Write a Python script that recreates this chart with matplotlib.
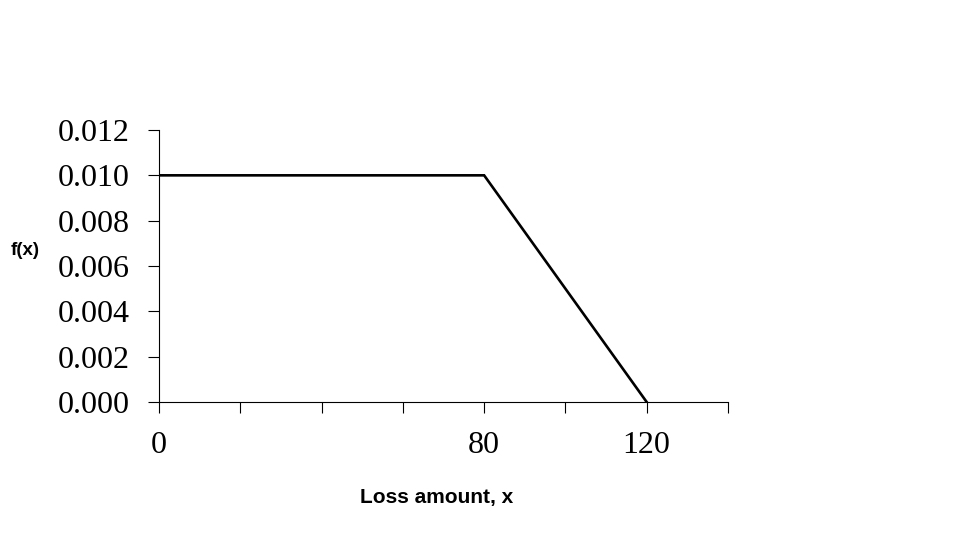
import matplotlib.pyplot as plt
from matplotlib.ticker import FixedFormatter, FixedLocator

loss = [0, 80, 120]
density = [0.010, 0.010, 0.000]
y_ticks = [0.000, 0.002, 0.004, 0.006, 0.008, 0.010, 0.012]
x_ticks = [0, 20, 40, 60, 80, 100, 120, 140]
x_tick_labels = ['0', '', '', '', '80', '', '120', '']

fig = plt.figure(figsize=(9.71, 5.46), dpi=100)
ax = fig.add_axes([0.1638, 0.2637, 0.5859, 0.4982])

ax.plot(loss, density, color='black', linewidth=1.9, solid_joinstyle='miter')

ax.set_xlim(0, 140)
ax.set_ylim(0, 0.012)
ax.xaxis.set_major_locator(FixedLocator(x_ticks))
ax.xaxis.set_major_formatter(FixedFormatter(x_tick_labels))
ax.set_yticks(y_ticks)
ax.set_yticklabels([f'{v:.3f}' for v in y_ticks])

for side in ['top', 'right']:
    ax.spines[side].set_visible(False)
for side in ['left', 'bottom']:
    ax.spines[side].set_linewidth(0.8)

ax.tick_params(direction='out', length=8, width=0.8, pad=13,
               labelsize=23)
for lab in ax.get_xticklabels() + ax.get_yticklabels():
    lab.set_fontfamily('Liberation Serif')

fig.text(0.026, 0.542, 'f(x)', fontsize=13.5, fontweight='bold',
         family='Liberation Sans', ha='center', va='center')
fig.text(0.450, 0.088, 'Loss amount, x', fontsize=15, fontweight='bold',
         family='Liberation Sans', ha='center', va='center')

fig.savefig('out.png', dpi=100)
